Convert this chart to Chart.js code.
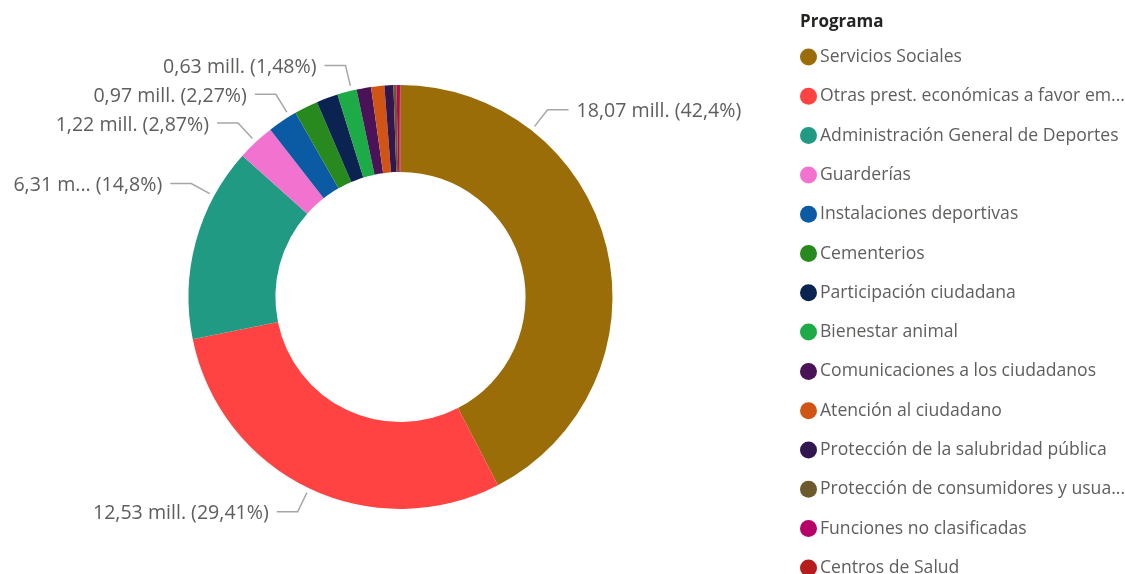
<!DOCTYPE html>
<html>
<head>
<meta charset="utf-8">
<script src="https://cdn.jsdelivr.net/npm/chart.js@4.4.1/dist/chart.umd.min.js"></script>
<style>
  html, body { margin: 0; padding: 0; background: #ffffff; }
  #wrap { width: 1125px; height: 574px; position: relative; overflow: hidden; }
</style>
</head>
<body>
<div id="wrap"><canvas id="c"></canvas></div>
<script>
// ---- Data (millions of euros) ----
const legendTitle = "Programa";
const categories = [
  "Servicios Sociales",
  "Otras prest. económicas a favor empleados",
  "Administración General de Deportes",
  "Guarderías",
  "Instalaciones deportivas",
  "Cementerios",
  "Participación ciudadana",
  "Bienestar animal",
  "Comunicaciones a los ciudadanos",
  "Atención al ciudadano",
  "Protección de la salubridad pública",
  "Protección de consumidores y usuarios",
  "Funciones no clasificadas",
  "Centros de Salud"
];
const values = [18.07, 12.532, 6.308, 1.223, 0.967, 0.77, 0.70, 0.63, 0.47, 0.43, 0.29, 0.10, 0.078, 0.049];
const colors = [
  "#9A6D08", "#FF4343", "#209A82", "#F272D0", "#0B5AA4", "#28891F", "#0A2350",
  "#1DAB48", "#4A1257", "#D05514", "#32164F", "#6D5A2C", "#B6006A", "#B71C1C"
];
// slices that carry a data label
const labelledSlices = [0, 1, 2, 3, 4, 7];

const FONT = "'Open Sans', 'Noto Sans', sans-serif";
const TEXT_COLOR = "#605E5C";

function fmtNum(v, d) { return v.toFixed(d).replace('.', ','); }
function fmtPct(p) {
  let s = (p * 100).toFixed(2);
  s = s.replace(/0+$/, '').replace(/\.$/, '');
  return s.replace('.', ',') + '%';
}

const donutLabels = {
  id: 'donutLabels',
  afterDatasetsDraw(chart, args, opts) {
    const ctx = chart.ctx;
    const meta = chart.getDatasetMeta(0);
    const data = chart.data.datasets[0].data;
    const total = data.reduce((a, b) => a + b, 0);
    ctx.save();
    ctx.font = opts.font;
    ctx.textBaseline = 'middle';
    opts.slices.forEach(i => {
      const arc = meta.data[i];
      const frac = (opts.anchors[i] !== undefined) ? opts.anchors[i] : 0.5;
      const a = arc.startAngle + (arc.endAngle - arc.startAngle) * frac;
      const cx = arc.x, cy = arc.y, r = arc.outerRadius;
      const r0 = r + opts.startOffset, r1 = r0 + opts.radial;
      const ax = cx + Math.cos(a) * r0, ay = cy + Math.sin(a) * r0;
      const ex = cx + Math.cos(a) * r1, ey = cy + Math.sin(a) * r1;
      const right = Math.cos(a) >= 0;
      const hx = ex + (right ? opts.horiz : -opts.horiz);
      ctx.strokeStyle = opts.lineColor;
      ctx.lineWidth = 1.5;
      ctx.beginPath();
      ctx.moveTo(ax, ay); ctx.lineTo(ex, ey); ctx.lineTo(hx, ey);
      ctx.stroke();
      const valStr = fmtNum(data[i], 2) + ' mill.';
      const pctStr = ' (' + fmtPct(data[i] / total) + ')';
      let text = valStr + pctStr;
      const tx = hx + (right ? opts.gap : -opts.gap);
      const avail = right ? (opts.rightLimit - tx) : (tx - opts.leftLimit);
      if (ctx.measureText(text).width > avail) {
        let v = valStr;
        while (v.length > 1 && ctx.measureText(v + '...' + pctStr).width > avail) v = v.slice(0, -1);
        text = v + '...' + pctStr;
      }
      ctx.fillStyle = TEXT_COLOR;
      ctx.textAlign = right ? 'left' : 'right';
      ctx.fillText(text, tx, ey + 2);
    });
    ctx.restore();
  }
};

const sideLegend = {
  id: 'sideLegend',
  afterDraw(chart, args, opts) {
    const ctx = chart.ctx;
    const labels = chart.data.labels;
    const cols = chart.data.datasets[0].backgroundColor;
    ctx.save();
    ctx.textBaseline = 'middle';
    ctx.textAlign = 'left';
    ctx.font = opts.titleFont;
    ctx.fillStyle = opts.titleColor;
    ctx.fillText(legendTitle, opts.x, opts.titleY);
    ctx.font = opts.font;
    labels.forEach((lab, i) => {
      const y = opts.firstY + i * opts.step;
      ctx.fillStyle = cols[i];
      ctx.beginPath();
      ctx.arc(opts.x + opts.dotR, y, opts.dotR, 0, Math.PI * 2);
      ctx.fill();
      let t = lab;
      const tx = opts.x + opts.textOffset;
      const avail = opts.maxRight - tx;
      if (ctx.measureText(t).width > avail) {
        while (t.length > 1 && ctx.measureText(t + '...').width > avail) t = t.slice(0, -1);
        t = t.replace(/\s+$/, '') + '...';
      }
      ctx.fillStyle = TEXT_COLOR;
      ctx.fillText(t, tx, y);
    });
    ctx.restore();
  }
};

new Chart(document.getElementById('c'), {
  type: 'doughnut',
  data: {
    labels: categories,
    datasets: [{
      data: values,
      backgroundColor: colors,
      borderWidth: 0,
      hoverOffset: 0
    }]
  },
  options: {
    responsive: true,
    maintainAspectRatio: false,
    animation: false,
    cutout: '59%',
    layout: { padding: { top: 85, bottom: 65, left: 188, right: 512 } },
    plugins: {
      legend: { display: false },
      tooltip: { enabled: false },
      donutLabels: {
        slices: labelledSlices,
        anchors: { 0: 0.25, 1: 0.5, 2: 0.75, 3: 0.5, 4: 0.77, 7: 0.74 },
        startOffset: 5, radial: 21, horiz: 21, gap: 8,
        leftLimit: 11, rightLimit: 790,
        lineColor: '#A6A6A6',
        font: "19.6px " + FONT
      },
      sideLegend: {
        x: 800, titleY: 22.5, firstY: 57, step: 39.3, dotR: 8.5, textOffset: 20,
        maxRight: 1128,
        titleFont: "bold 17px " + FONT, titleColor: '#252423',
        font: "17.6px " + FONT
      }
    }
  },
  plugins: [donutLabels, sideLegend]
});
</script>
</body>
</html>
